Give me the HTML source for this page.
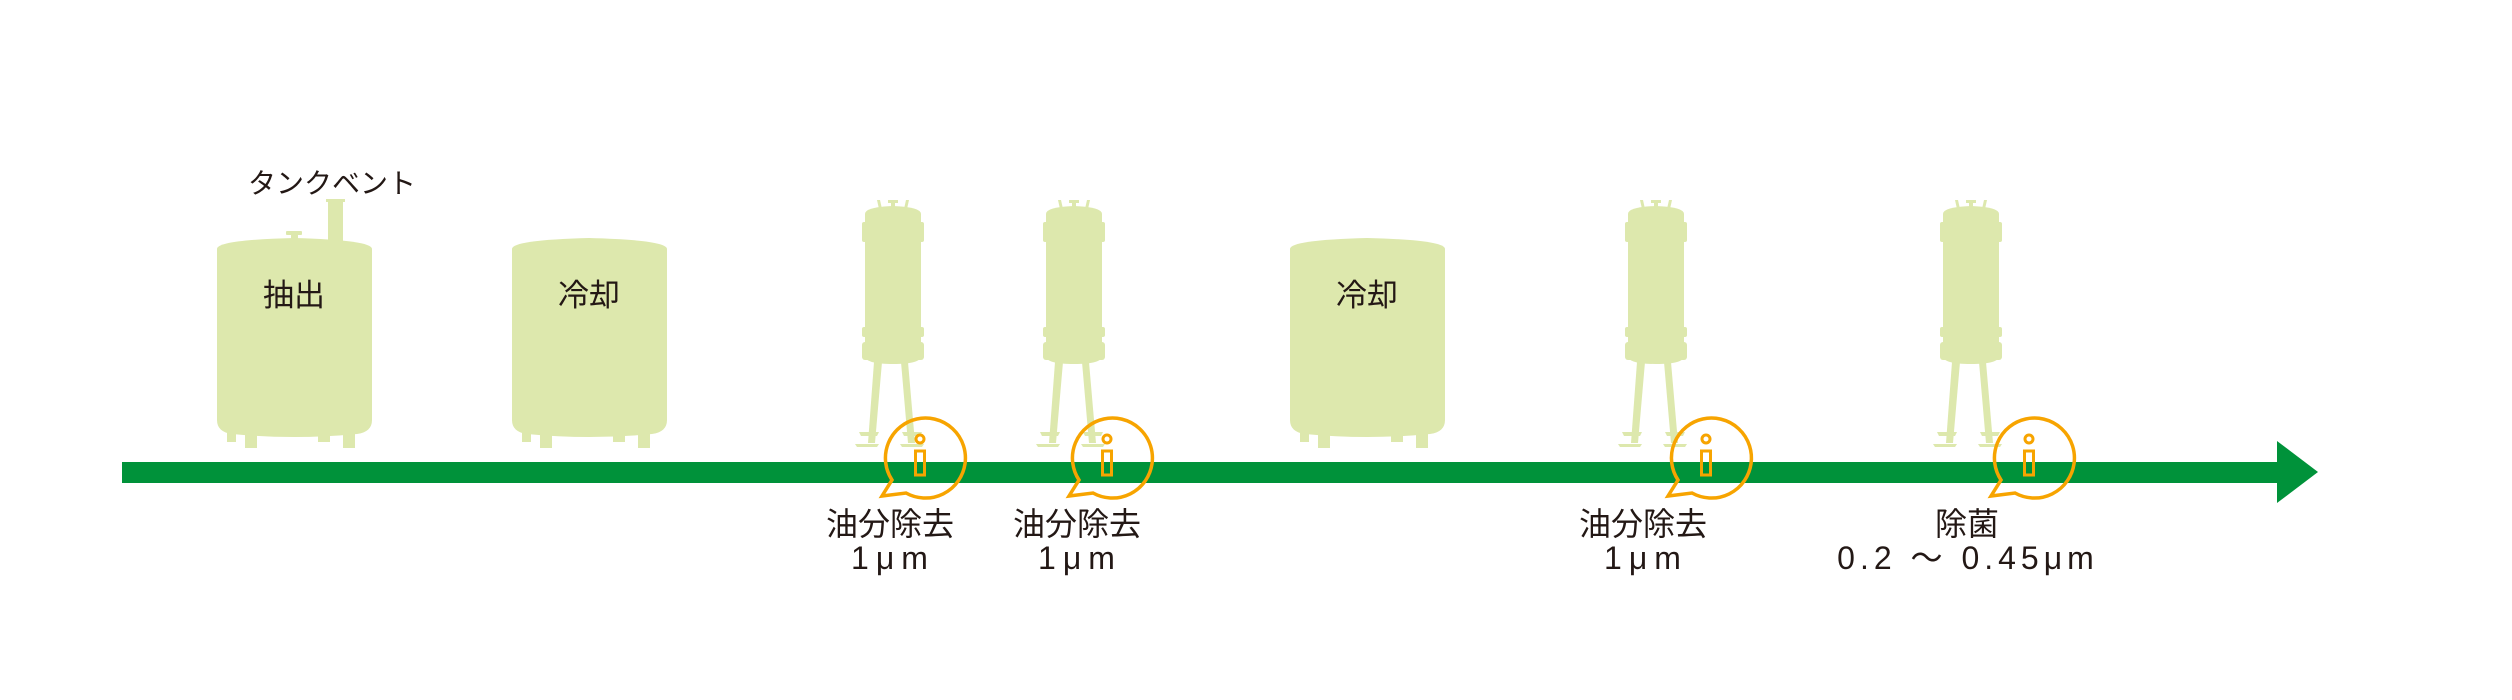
<!DOCTYPE html>
<html><head><meta charset="utf-8"><style>
html,body{margin:0;padding:0;background:#fff;width:2512px;height:700px;overflow:hidden}
svg text{font-family:"Liberation Sans","Noto Sans CJK JP",sans-serif;fill:#231815}
</style></head><body>
<svg width="2512" height="700" viewBox="0 0 2512 700" xmlns="http://www.w3.org/2000/svg">
<defs>
<g id="tank" fill="#dde8ad">
  <path d="M0,249 Q0,240 77,238 Q155,240 155,249 L155,420 Q155,432 140,434 Q77,440 15,434 Q0,432 0,420 Z"/>
  <rect x="10" y="430" width="9" height="12"/>
  <rect x="28" y="430" width="12" height="18"/>
  <rect x="101" y="430" width="12" height="12"/>
  <rect x="126" y="430" width="12" height="18"/>
</g>
<g id="filt" fill="#dde8ad">
  <path d="M-28,214 Q-28,207 0,206 Q28,207 28,214 L28,356 Q28,364 0,364 Q-28,364 -28,356 Z"/>
  <rect x="-31" y="222" width="62" height="20" rx="2"/>
  <rect x="-31" y="327" width="62" height="10" rx="2"/>
  <rect x="-31" y="342" width="62" height="18" rx="3"/>
  <rect x="-5" y="200" width="10" height="3"/>
  <rect x="-2" y="200" width="4" height="8"/>
  <path d="M-16,200 L-13,200 L-11,209 L-14,209 Z"/>
  <path d="M13,200 L16,200 L14,209 L11,209 Z"/>
  <path d="M-19,362 L-11,362 L-18,443 L-25,443 Z"/>
  <path d="M8,362 L15,362 L22,443 L15,443 Z"/>
  <path d="M-34,432 L-14,432 L-16,436 L-32,436 Z"/>
  <path d="M-38,444 L-14,444 L-16,447 L-36,447 Z"/>
  <path d="M9,432 L29,432 L27,436 L11,436 Z"/>
  <path d="M7,444 L31,444 L29,447 L9,447 Z"/>
</g>
<g id="bub">
  <path d="M-28,24 A40,40 0 1 1 -14,37 L-38,40 Z" fill="none" stroke="#f7a400" stroke-width="3.5" stroke-linejoin="miter"/>
  <circle cx="0" cy="-17" r="4" fill="none" stroke="#f7a400" stroke-width="3"/>
  <rect x="-4.5" y="-5" width="9" height="24" fill="none" stroke="#f7a400" stroke-width="3"/>
</g>
</defs>

<g fill="#dde8ad">
  <rect x="328" y="200" width="15" height="42"/>
  <rect x="326" y="199" width="19" height="3"/>
  <rect x="291" y="232" width="7" height="10"/>
  <rect x="286" y="231" width="16" height="4" rx="1"/>
</g>
<use href="#tank" x="217"/>
<use href="#tank" x="512"/>
<use href="#tank" x="1290"/>

<use href="#filt" x="893"/>
<use href="#filt" x="1074"/>
<use href="#filt" x="1656"/>
<use href="#filt" x="1971"/>

<rect x="122" y="462" width="2160" height="21" fill="#00923a"/>
<path d="M2277,441 L2318,472 L2277,503 Z" fill="#00923a"/>

<use href="#bub" x="920" y="456"/>
<use href="#bub" x="1107" y="456"/>
<use href="#bub" x="1706" y="456"/>
<use href="#bub" x="2029" y="456"/>

<text x="332" y="193" font-size="28" text-anchor="middle">タンクベント</text>
<text x="294" y="306" font-size="31" text-anchor="middle">抽出</text>
<text x="589" y="306" font-size="31" text-anchor="middle">冷却</text>
<text x="1367" y="306" font-size="31" text-anchor="middle">冷却</text>

<g font-size="32" text-anchor="middle">
<text x="890" y="535">油分除去</text>
<text x="893" y="569" letter-spacing="7">1μm</text>
<text x="1077" y="535">油分除去</text>
<text x="1080" y="569" letter-spacing="7">1μm</text>
<text x="1643" y="535">油分除去</text>
<text x="1646" y="569" letter-spacing="7">1μm</text>
<text x="1967" y="535">除菌</text>
<text x="1968" y="569" letter-spacing="5">0.2 ～ 0.45μm</text>
</g>
</svg>
</body></html>
